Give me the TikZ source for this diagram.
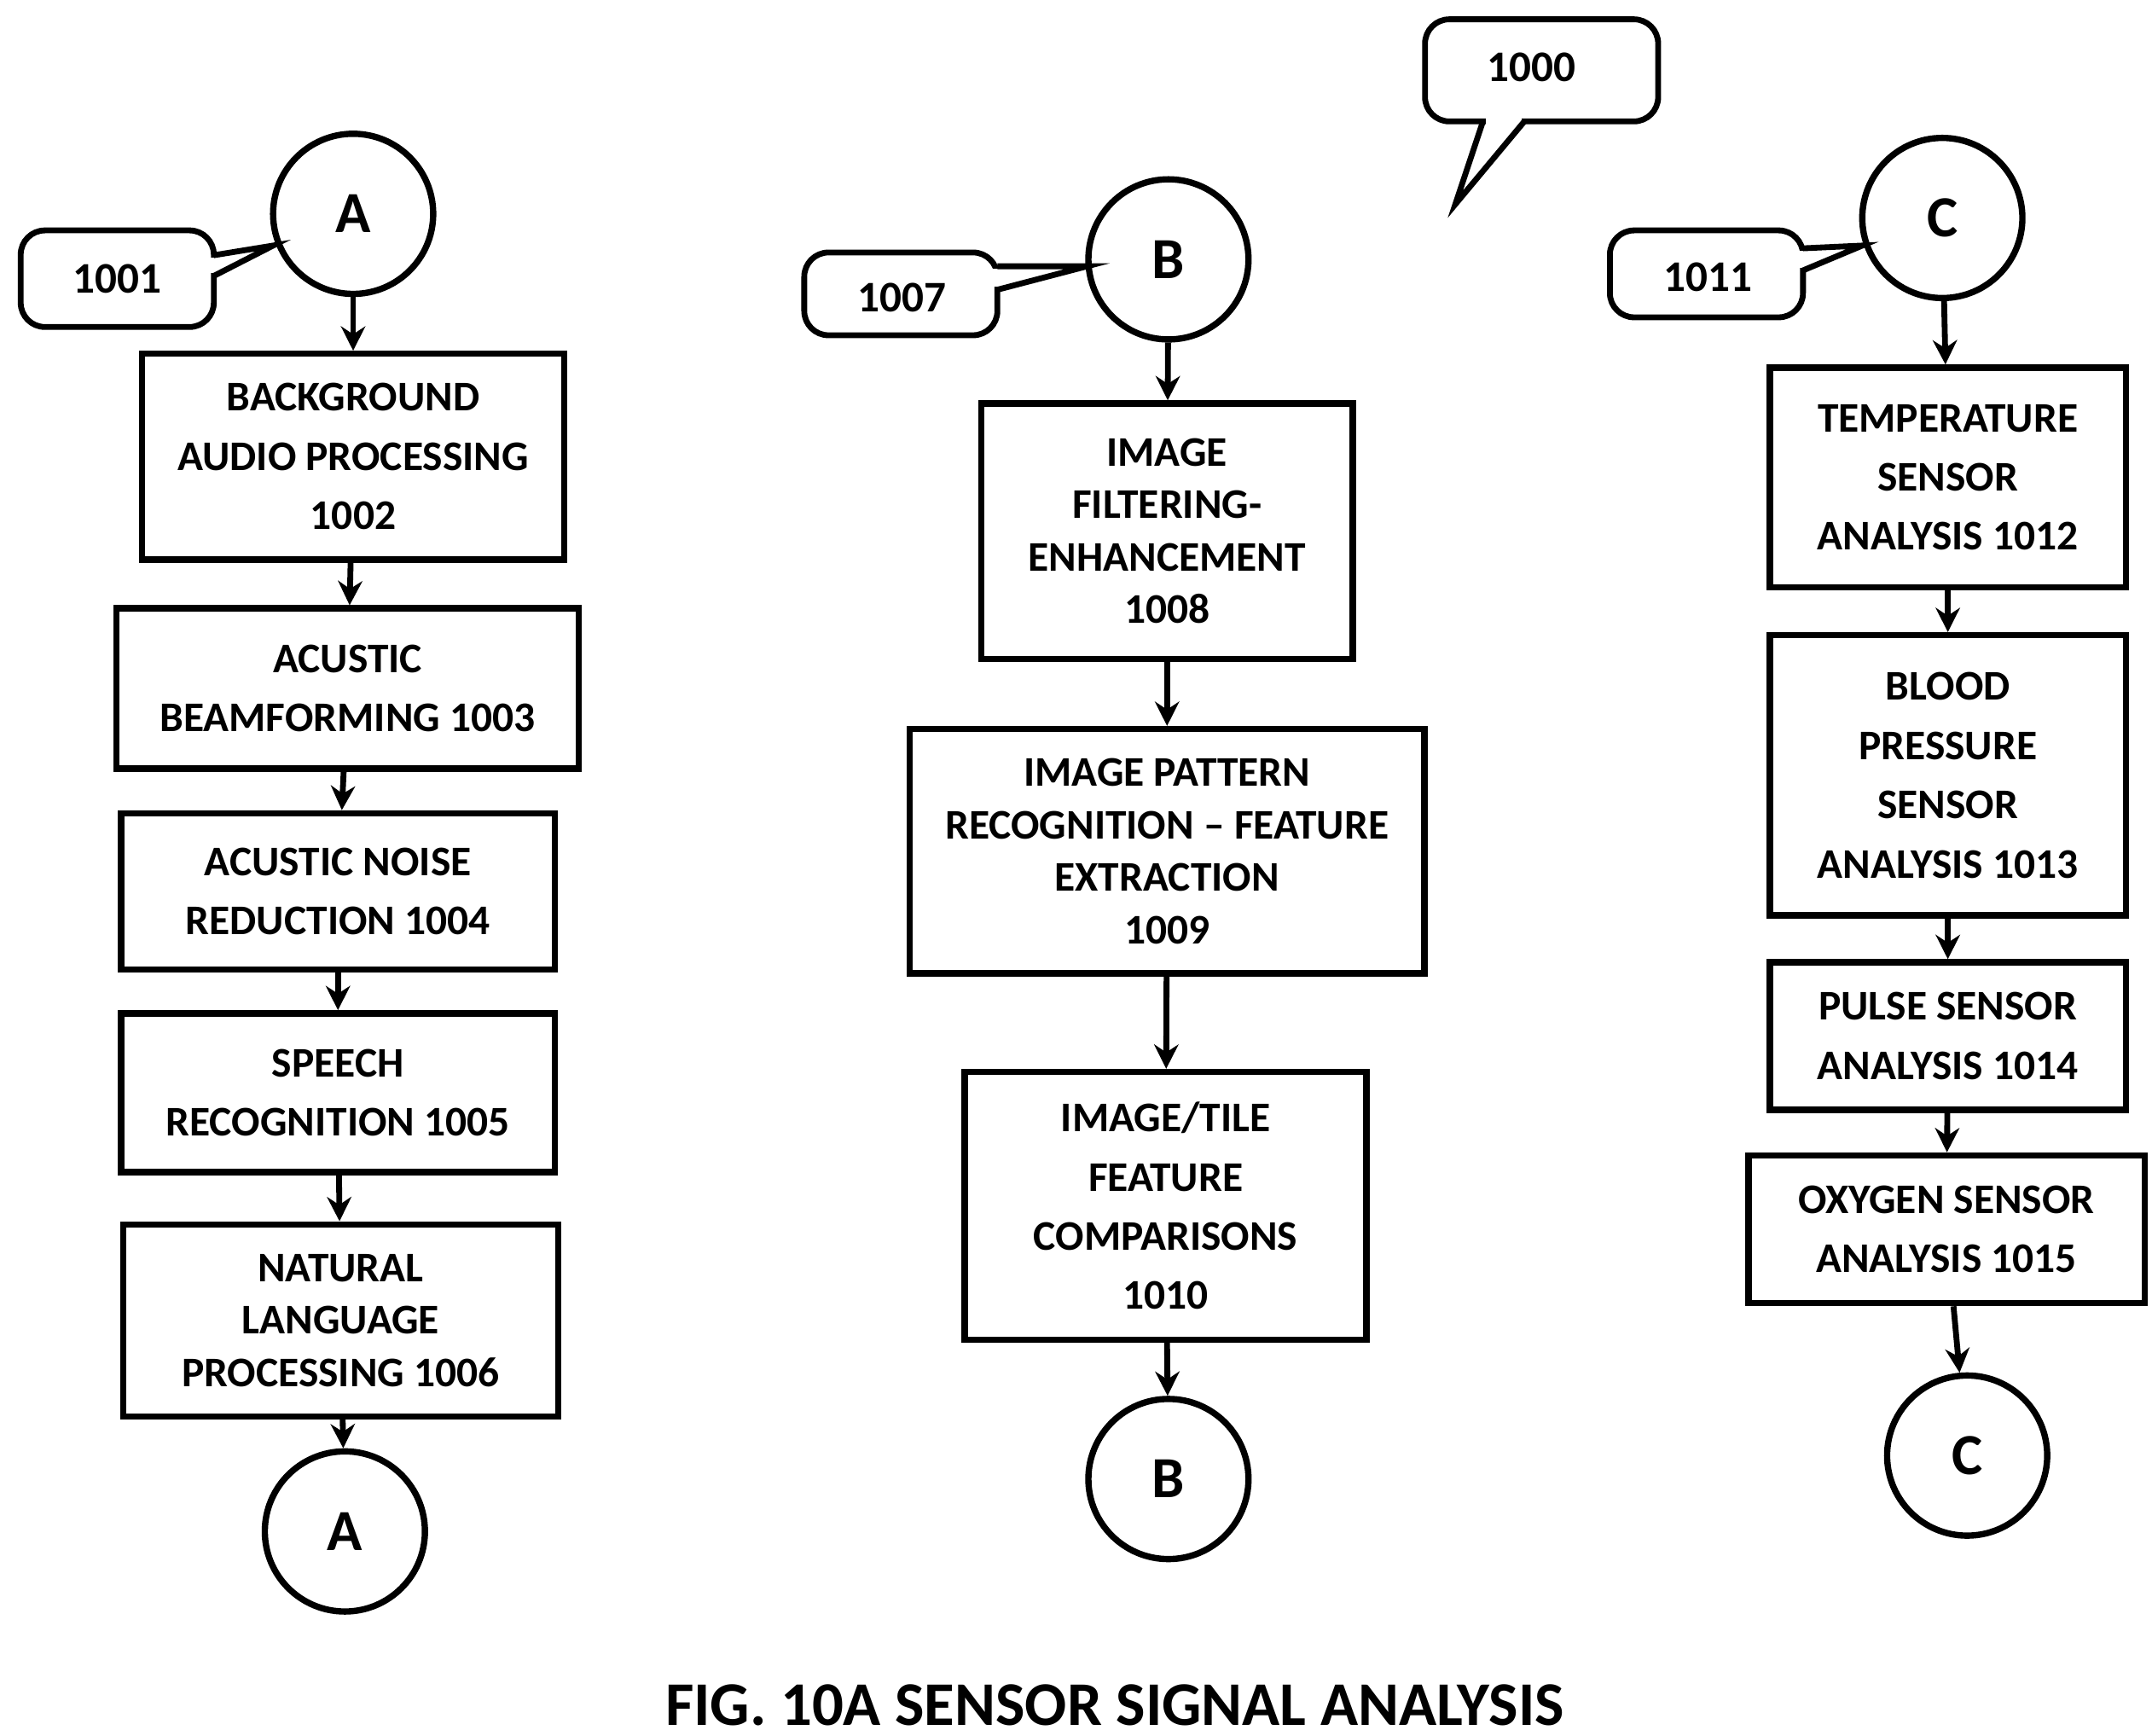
\documentclass[tikz,border=0pt]{standalone}
\usepackage{fontspec}
\setmainfont{Carlito}
\usetikzlibrary{arrows.meta}
\usetikzlibrary{positioning}
\begin{document}
\begin{tikzpicture}[x=0.01cm,y=-0.01cm]
\tikzset{
    stage/.style={
              draw,
                   line width=1.3pt,
                   align=center,
                   font=\bfseries\fontsize{8.7}{12.2}\selectfont,
                   inner sep=0pt
    },
    conn/.style={
              circle,
                   draw,
                   line width=1.3pt,
                   minimum size=1.16cm,
                   font=\bfseries\fontsize{12}{14}\selectfont
    },
    flow/.style={line width=1.2pt,-{Stealth[length=5pt,width=5pt]}},
    call/.style={line width=1.2pt,rounded corners=5pt},
    tail/.style={line width=1.2pt,line join=miter}
}
\useasboundingbox (0,0) rectangle (1560,1258);
    % left column
    \node (A)[conn] at (256,155) {A};
    \node (s1002)[stage,minimum width=3.06cm,minimum height=1.49cm] at (256,331) {BACKGROUND\\AUDIO PROCESSING\\1002};
    \node (s1003)[stage,minimum width=3.35cm,minimum height=1.16cm] at (252,499) {ACUSTIC\\BEAMFORMING 1003};
    \node (s1004)[stage,minimum width=3.14cm,minimum height=1.13cm] at (245,646) {ACUSTIC NOISE\\REDUCTION 1004};
    \node (s1005)[stage,minimum width=3.14cm,minimum height=1.15cm] at (245,792) {SPEECH\\RECOGNITION 1005};
    \node (s1006)[stage,minimum width=3.15cm,minimum height=1.39cm,font=\bfseries\fontsize{8.7}{10.8}\selectfont] at (247,957) {NATURAL\\LANGUAGE\\PROCESSING 1006};
    \node (A2)[conn] at (250,1110) {A};
    % middle column
    \node (B)[conn] at (847,188) {B};
    \node (s1008)[stage,minimum width=2.69cm,minimum height=1.85cm,font=\bfseries\fontsize{8.7}{10.8}\selectfont] at (846,385) {IMAGE\\FILTERING-\\ENHANCEMENT\\1008};
    \node (s1009)[stage,minimum width=3.73cm,minimum height=1.77cm,font=\bfseries\fontsize{8.7}{10.8}\selectfont] at (846,617) {IMAGE PATTERN\\RECOGNITION -- FEATURE\\EXTRACTION\\1009};
    \node (s1010)[stage,minimum width=2.91cm,minimum height=1.94cm] at (845,874) {IMAGE/TILE\\FEATURE\\COMPARISONS\\1010};
    \node (B2)[conn] at (847,1072) {B};
    % right column
    \node (C)[conn] at (1408,158) {C};
    \node (s1012)[stage,minimum width=2.58cm,minimum height=1.59cm] at (1412,346) {TEMPERATURE\\SENSOR\\ANALYSIS 1012};
    \node (s1013)[stage,minimum width=2.58cm,minimum height=2.03cm] at (1412,562) {BLOOD\\PRESSURE\\SENSOR\\ANALYSIS 1013};
    \node (s1014)[stage,minimum width=2.58cm,minimum height=1.07cm] at (1412,751) {PULSE SENSOR\\ANALYSIS 1014};
    \node (s1015)[stage,minimum width=2.87cm,minimum height=1.07cm] at (1411,891) {OXYGEN SENSOR\\ANALYSIS 1015};
    \node (C2)[conn] at (1426,1055) {C};

    \draw[flow] (A) -- (s1002);
    \draw[flow] (s1002) -- (s1003);
    \draw[flow] (s1003) -- (s1004);
    \draw[flow] (s1004) -- (s1005);
    \draw[flow] (s1005) -- (s1006);
    \draw[flow] (s1006) -- (A2);
    \draw[flow] (B) -- (s1008);
    \draw[flow] (s1008) -- (s1009);
    \draw[flow] (s1009) -- (s1010);
    \draw[flow] (s1010) -- (B2);
    \draw[flow] (C) -- (s1012);
    \draw[flow] (s1012) -- (s1013);
    \draw[flow] (s1013) -- (s1014);
    \draw[flow] (s1014) -- (s1015);
    \draw[flow] (s1015) -- (C2);

    % callouts
    \draw[call] (15,167) rectangle (155,237);
    \fill[white] (150,187) rectangle (160,198);
    \draw[tail] (155,185) -- (198,178) -- (155,200);
    \node (c1001)[font=\bfseries\fontsize{9}{11}\selectfont] at (85,202) {1001};
    \draw[call] (583,183) rectangle (723,243);
    \fill[white] (718,195) rectangle (728,208);
    \draw[tail] (723,193) -- (788,193) -- (723,210);
    \node (c1007)[font=\bfseries\fontsize{9}{11}\selectfont] at (654,216) {1007};
    \draw[call] (1167,167) rectangle (1307,230);
    \fill[white] (1302,182) rectangle (1312,194);
    \draw[tail] (1307,180) -- (1350,178) -- (1307,196);
    \node (c1011)[font=\bfseries\fontsize{9}{11}\selectfont] at (1238,201) {1011};
    \draw[call] (1033,14) rectangle (1202,88);
    \fill[white] (1077,83) rectangle (1103,93);
    \draw[tail] (1075,88) -- (1055,148) -- (1105,88);
    \node (c1000)[font=\bfseries\fontsize{9}{11}\selectfont] at (1110,49) {1000};

    \node (title)[font=\bfseries\fontsize{12.8}{15}\selectfont] at (808,1236) {FIG. 10A SENSOR SIGNAL ANALYSIS};
\end{tikzpicture}
\end{document}
